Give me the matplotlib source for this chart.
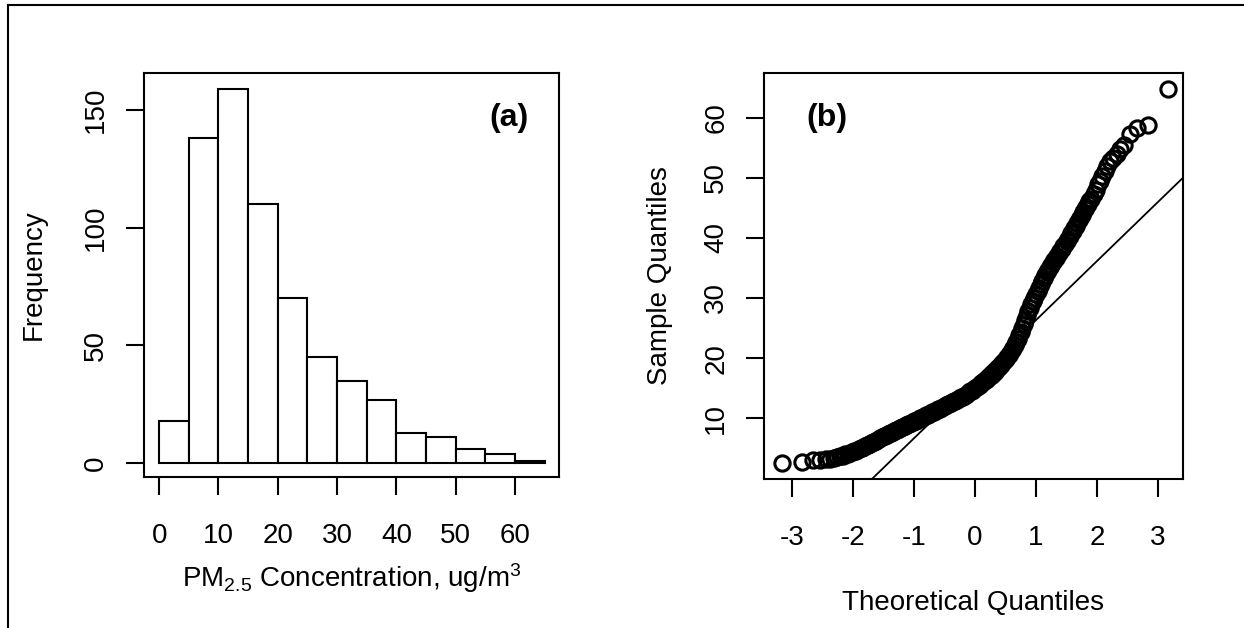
import numpy as np
import matplotlib
matplotlib.use("Agg")
import matplotlib.pyplot as plt
from matplotlib.lines import Line2D

plt.rcParams['font.family'] = ['Liberation Sans', 'DejaVu Sans']
plt.rcParams['mathtext.fontset'] = 'custom'
plt.rcParams['mathtext.rm'] = 'Liberation Sans'
plt.rcParams['mathtext.it'] = 'Liberation Sans'
plt.rcParams['axes.unicode_minus'] = False

# (a) histogram of PM2.5
bin_edges = [0, 5, 10, 15, 20, 25, 30, 35, 40, 45, 50, 55, 60, 65]
counts = [18, 138, 159, 110, 70, 45, 35, 27, 13, 11, 6, 4, 1]

# (b) normal QQ plot
qq_theory = [
    -3.16, -2.83, -2.66, -2.54, -2.45, -2.38, -2.32, -2.27, -2.22, -2.17, -2.13, -2.09, -2.05, -2.02, -1.98, -1.95,
    -1.900, -1.875, -1.850, -1.825, -1.800, -1.775, -1.750, -1.725, -1.700, -1.675, -1.650, -1.625, -1.600,
    -1.575, -1.550, -1.525, -1.500, -1.475, -1.450, -1.425, -1.400, -1.375, -1.350, -1.325, -1.300, -1.275,
    -1.250, -1.225, -1.200, -1.175, -1.150, -1.125, -1.100, -1.075, -1.050, -1.025, -1.000,
    -0.975, -0.950, -0.925, -0.900, -0.875, -0.850, -0.825, -0.800, -0.775, -0.750, -0.725, -0.700, -0.675,
    -0.650, -0.625, -0.600, -0.575, -0.550, -0.525, -0.500, -0.475, -0.450, -0.425, -0.400, -0.375, -0.350,
    -0.325, -0.300, -0.275, -0.250, -0.225, -0.200, -0.175, -0.150, -0.125, -0.100, -0.075, -0.050, -0.025, 0.000,
    0.025, 0.050, 0.075, 0.100, 0.125, 0.150, 0.175, 0.200, 0.225, 0.250, 0.275, 0.300, 0.325, 0.350,
    0.375, 0.400, 0.425, 0.450, 0.475, 0.500, 0.525, 0.550, 0.575, 0.600, 0.625, 0.650, 0.675, 0.700,
    0.725, 0.750, 0.775, 0.800, 0.825, 0.850, 0.875, 0.900, 0.925, 0.950, 0.975, 1.000,
    1.025, 1.050, 1.075, 1.100, 1.125, 1.150, 1.175, 1.200, 1.225, 1.250, 1.275, 1.300, 1.325, 1.350,
    1.375, 1.400, 1.425, 1.450, 1.475, 1.500, 1.525, 1.550, 1.575, 1.600, 1.625, 1.650, 1.675, 1.700,
    1.725, 1.750, 1.775, 1.800, 1.825, 1.850, 1.875, 1.900,
    1.95, 1.98, 2.02, 2.05, 2.09, 2.13, 2.17, 2.22, 2.27, 2.32, 2.38, 2.45, 2.54, 2.66, 2.83, 3.16,
]
qq_sample = [
    2.6, 2.8, 3.0, 3.1, 3.2, 3.3, 3.4, 3.6, 3.7, 3.8, 4.0, 4.1, 4.3, 4.4, 4.5, 4.6,
    4.9, 5.0, 5.1, 5.25, 5.4, 5.5, 5.6, 5.75, 5.9, 6.0, 6.1, 6.25, 6.4,
    6.55, 6.7, 6.85, 7.0, 7.1, 7.2, 7.35, 7.5, 7.6, 7.7, 7.85, 8.0, 8.1,
    8.2, 8.35, 8.5, 8.6, 8.7, 8.85, 9.0, 9.1, 9.2, 9.35, 9.5,
    9.6, 9.7, 9.85, 10.0, 10.1, 10.2, 10.35, 10.5, 10.6, 10.7, 10.85, 11.0, 11.1,
    11.2, 11.35, 11.5, 11.6, 11.7, 11.85, 12.0, 12.15, 12.3, 12.4, 12.5, 12.65, 12.8,
    12.9, 13.0, 13.15, 13.3, 13.45, 13.6, 13.75, 13.9, 14.1, 14.3, 14.45, 14.6, 14.8, 15.0,
    15.2, 15.4, 15.6, 15.8, 16.0, 16.2, 16.4, 16.6, 16.8, 17.0, 17.25, 17.5, 17.75, 18.0,
    18.3, 18.6, 18.9, 19.2, 19.5, 19.8, 20.15, 20.5, 20.9, 21.3, 21.75, 22.2, 22.7, 23.2,
    23.8, 24.4, 25.05, 25.7, 26.4, 27.1, 27.75, 28.4, 28.95, 29.5, 30.05, 30.6,
    31.15, 31.7, 32.25, 32.8, 33.3, 33.8, 34.25, 34.7, 35.1, 35.5, 35.9, 36.3, 36.65, 37.0,
    37.4, 37.8, 38.2, 38.6, 39.0, 39.4, 39.85, 40.3, 40.75, 41.2, 41.6, 42.0, 42.45, 42.9,
    43.35, 43.8, 44.3, 44.8, 45.2, 45.6, 46.05, 46.5,
    47.2, 48.0, 48.9, 49.4, 50.2, 51.1, 51.9, 52.7, 53.3, 53.9, 54.7, 55.5, 57.3, 58.2, 58.7, 64.7,
]
# qqline: intercept and slope
line_a = 16.5
line_b = 9.82

fs = 20
lw = 1.5

fig = plt.figure(figsize=(12.44, 6.28), dpi=100)

# outer frame (top and left edges only visible)
fig.add_artist(Line2D([8 / 1244, 1], [1 - 5 / 628, 1 - 5 / 628], color='black', lw=lw))
fig.add_artist(Line2D([8 / 1244, 8 / 1244], [0, 1 - 5 / 628], color='black', lw=lw))

ax1 = fig.add_axes([144 / 1244, 151 / 628, 415 / 1244, 404 / 628])
ax2 = fig.add_axes([764 / 1244, 149 / 628, 419 / 1244, 406 / 628])

ax1.bar(bin_edges[:-1], counts, width=5, align='edge', color='white', edgecolor='black', linewidth=lw)
ax1.set_xlim(-2.55, 67.4)
ax1.set_ylim(-5.9, 165.7)
ax1.set_xticks([0, 10, 20, 30, 40, 50, 60])
ax1.set_yticks([0, 50, 100, 150])
ax1.set_yticklabels(['0', '50', '100', '150'], rotation=90, va='center')
ax1.set_ylabel('Frequency', fontsize=fs, labelpad=26)
ax1.set_xlabel('PM$_{2.5}$ Concentration, ug/m$^3$', fontsize=fs, labelpad=9)
ax1.text(58.9, 146.6, '(a)', fontsize=23, fontweight='bold', ha='center', va='center')

ax2.plot(qq_theory, qq_sample, linestyle='none', marker='o', markersize=11,
         markerfacecolor='none', markeredgecolor='black', markeredgewidth=2.2)
ax2.axline((0, line_a), slope=line_b, color='black', lw=1.3)
ax2.set_xlim(-3.46, 3.41)
ax2.set_ylim(-0.1, 67.4)
ax2.set_xticks([-3, -2, -1, 0, 1, 2, 3])
ax2.set_yticks([10, 20, 30, 40, 50, 60])
ax2.set_yticklabels(['10', '20', '30', '40', '50', '60'], rotation=90, va='center')
ax2.set_ylabel('Sample Quantiles', fontsize=fs, labelpad=22)
ax2.set_xlabel('Theoretical Quantiles', fontsize=fs, labelpad=28)
ax2.text(-2.43, 60, '(b)', fontsize=23, fontweight='bold', ha='center', va='center')

for ax in (ax1, ax2):
    for s in ax.spines.values():
        s.set_linewidth(lw)
    ax.tick_params(direction='out', length=13, width=lw, labelsize=fs)
    ax.tick_params(axis='x', pad=20)
    ax.tick_params(axis='y', pad=12)

fig.savefig('out.png', dpi=100)
